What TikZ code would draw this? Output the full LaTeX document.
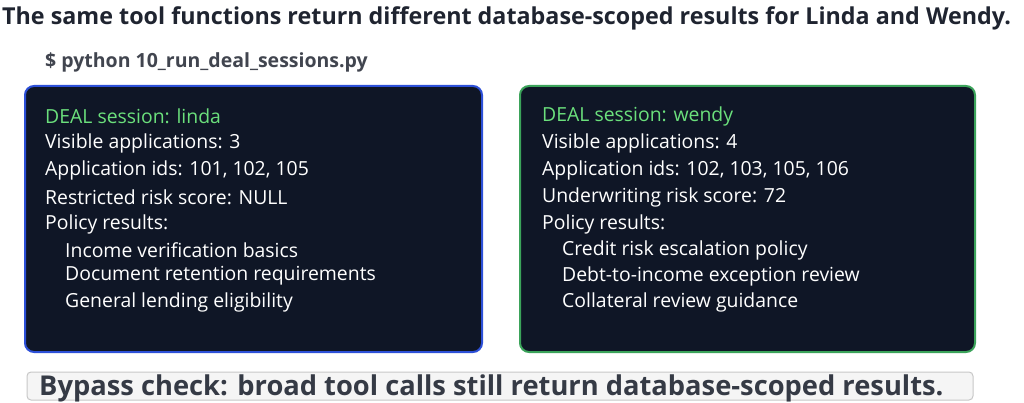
\documentclass[tikz,border=0pt]{standalone}
\usepackage{fontspec}
\setmainfont{Open Sans}
\definecolor{panel}{HTML}{0F1626}
\definecolor{bluebd}{HTML}{2D50D8}
\definecolor{greenbd}{HTML}{3BA35A}
\definecolor{hdr}{HTML}{6BE07C}
\definecolor{ink}{HTML}{1F2430}
\begin{document}
\begin{tikzpicture}[x=1pt,y=-1pt,
  panelbox/.style={draw=#1,line width=2pt,fill=panel,rounded corners=9pt},
  ln/.style={anchor=west,text=white,font=\fontsize{19.4}{20}\selectfont,inner sep=0pt},
  hd/.style={ln,text=hdr}]
\useasboundingbox (0,0) rectangle (1024,403);
\node[anchor=west,inner sep=0pt,text=ink,font=\fontsize{23.3}{24}\selectfont\bfseries] (title) at (2,18) {The same tool functions return different database-scoped results for Linda and Wendy.};
\node[anchor=west,inner sep=0pt,text=ink!85,font=\fontsize{19.5}{20}\selectfont\bfseries] (cmd) at (45,62) {\$ python 10\_run\_deal\_sessions.py};
\draw[panelbox=bluebd] (25,86) rectangle (482,352);
\draw[panelbox=greenbd] (520,86) rectangle (975,352);
\node[hd] (l0) at (45,116) {DEAL session: linda};
\node[ln] (l1) at (45,143) {Visible applications: 3};
\node[ln] (l2) at (45,170) {Application ids: 101, 102, 105};
\node[ln] (l3) at (45,197) {Restricted risk score: NULL};
\node[ln] (l4) at (45,224) {Policy results:};
\node[ln] (l5) at (65,250) {Income verification basics};
\node[ln] (l6) at (65,276) {Document retention requirements};
\node[ln] (l7) at (65,302) {General lending eligibility};
\node[hd] (w0) at (542,116) {DEAL session: wendy};
\node[ln] (w1) at (542,143) {Visible applications: 4};
\node[ln] (w2) at (542,170) {Application ids: 102, 103, 105, 106};
\node[ln] (w3) at (542,197) {Underwriting risk score: 72};
\node[ln] (w4) at (542,224) {Policy results:};
\node[ln] (w5) at (562,250) {Credit risk escalation policy};
\node[ln] (w6) at (562,276) {Debt-to-income exception review};
\node[ln] (w7) at (562,302) {Collateral review guidance};
\draw[draw=black!22,fill=black!4,rounded corners=4pt,line width=1pt] (27,372) rectangle (973,400);
\node[anchor=west,inner sep=0pt,text=ink!90,font=\fontsize{27.3}{28}\selectfont\bfseries] (bp) at (39,388) {Bypass check: broad tool calls still return database-scoped results.};
\end{tikzpicture}
\end{document}
